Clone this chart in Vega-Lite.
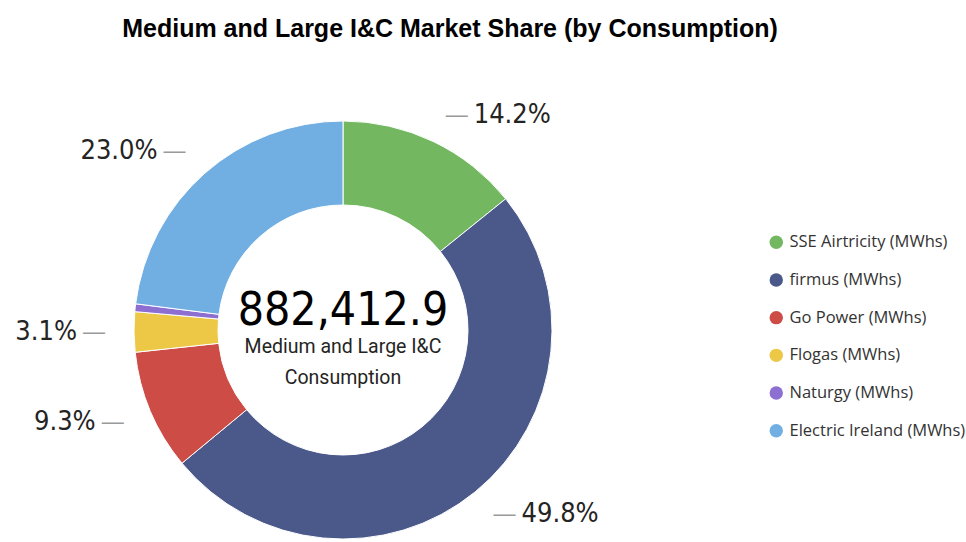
{
  "$schema": "https://vega.github.io/schema/vega-lite/v6.json",
  "width": 662,
  "height": 636,
  "autosize": {"type": "none"},
  "padding": {"left": 12, "top": 12, "right": 292, "bottom": 0},
  "background": "#ffffff",
  "config": {"view": {"stroke": null}},
  "title": {
    "text": "Medium and Large I&C Market Share (by Consumption)",
    "anchor": "middle",
    "frame": "group",
    "dx": 107,
    "dy": 34,
    "font": "Liberation Sans",
    "fontSize": 25,
    "fontWeight": "bold",
    "color": "#000000"
  },
  "datasets": {
    "shares": [
      {"supplier": "SSE Airtricity (MWhs)", "share": 0.142, "rank": 1},
      {"supplier": "firmus (MWhs)", "share": 0.498, "rank": 2},
      {"supplier": "Go Power (MWhs)", "share": 0.093, "rank": 3},
      {"supplier": "Flogas (MWhs)", "share": 0.031, "rank": 4},
      {"supplier": "Naturgy (MWhs)", "share": 0.006, "rank": 5},
      {"supplier": "Electric Ireland (MWhs)", "share": 0.230, "rank": 6}
    ],
    "kpi": [
      {"total": 882412.9, "caption": "Medium and Large I&C\nConsumption"}
    ]
  },
  "layer": [
    {
      "data": {"name": "shares"},
      "mark": {"type": "arc", "innerRadius": 125, "outerRadius": 209, "stroke": "#ffffff", "strokeWidth": 1},
      "encoding": {
        "theta": {"field": "share", "type": "quantitative", "stack": true},
        "order": {"field": "rank", "type": "quantitative"},
        "color": {
          "field": "supplier",
          "type": "nominal",
          "sort": null,
          "scale": {
            "domain": ["SSE Airtricity (MWhs)", "firmus (MWhs)", "Go Power (MWhs)", "Flogas (MWhs)", "Naturgy (MWhs)", "Electric Ireland (MWhs)"],
            "range": ["#73B761", "#4A588A", "#CD4C46", "#ECC846", "#8D6FD1", "#71AFE2"]
          },
          "legend": {
            "title": null,
            "orient": "none",
            "legendX": 756,
            "legendY": 222,
            "symbolType": "circle",
            "symbolSize": 180,
            "symbolStrokeWidth": 0,
            "labelFont": "Open Sans",
            "labelFontSize": 16.5,
            "labelColor": "#333333",
            "labelOffset": 5,
            "labelLimit": 400,
            "rowPadding": 20.7
          }
        }
      }
    },
    {
      "data": {"name": "shares"},
      "mark": {"type": "text", "radius": 238, "align": "left", "baseline": "middle", "fontSize": 22, "font": "Liberation Sans", "fill": "#9a9a9a"},
      "encoding": {
        "theta": {"field": "share", "type": "quantitative", "stack": true},
        "order": {"field": "rank", "type": "quantitative"},
        "detail": {"field": "supplier", "type": "nominal"},
        "text": {"condition": {"test": "indexof(['SSE Airtricity (MWhs)','firmus (MWhs)'], datum.supplier) >= 0", "value": "—"}, "value": ""}
      }
    },
    {
      "data": {"name": "shares"},
      "mark": {"type": "text", "radius": 238, "align": "right", "baseline": "middle", "fontSize": 22, "font": "Liberation Sans", "fill": "#9a9a9a"},
      "encoding": {
        "theta": {"field": "share", "type": "quantitative", "stack": true},
        "order": {"field": "rank", "type": "quantitative"},
        "detail": {"field": "supplier", "type": "nominal"},
        "text": {"condition": {"test": "indexof(['Go Power (MWhs)','Flogas (MWhs)','Electric Ireland (MWhs)'], datum.supplier) >= 0", "value": "—"}, "value": ""}
      }
    },
    {
      "data": {"name": "shares"},
      "mark": {"type": "text", "radius": 238, "dx": 28, "align": "left", "baseline": "middle", "fontSize": 27, "font": "DejaVu Sans Condensed", "fill": "#252423"},
      "encoding": {
        "theta": {"field": "share", "type": "quantitative", "stack": true},
        "order": {"field": "rank", "type": "quantitative"},
        "detail": {"field": "supplier", "type": "nominal"},
        "text": {"condition": {"test": "indexof(['SSE Airtricity (MWhs)','firmus (MWhs)'], datum.supplier) >= 0", "field": "share", "format": ".1%"}, "value": ""}
      }
    },
    {
      "data": {"name": "shares"},
      "mark": {"type": "text", "radius": 238, "dx": -28, "align": "right", "baseline": "middle", "fontSize": 27, "font": "DejaVu Sans Condensed", "fill": "#252423"},
      "encoding": {
        "theta": {"field": "share", "type": "quantitative", "stack": true},
        "order": {"field": "rank", "type": "quantitative"},
        "detail": {"field": "supplier", "type": "nominal"},
        "text": {"condition": {"test": "indexof(['Go Power (MWhs)','Flogas (MWhs)','Electric Ireland (MWhs)'], datum.supplier) >= 0", "field": "share", "format": ".1%"}, "value": ""}
      }
    },
    {
      "data": {"name": "kpi"},
      "mark": {"type": "text", "align": "center", "baseline": "alphabetic", "dy": -5, "fontSize": 46, "font": "DejaVu Sans Condensed", "fill": "#000000"},
      "encoding": {
        "text": {"field": "total", "type": "quantitative", "format": ",.1f"}
      }
    },
    {
      "data": {"name": "kpi"},
      "mark": {"type": "text", "align": "center", "baseline": "alphabetic", "dy": 23, "lineBreak": "\n", "lineHeight": 31, "fontSize": 19.5, "font": "Roboto", "fill": "#252423"},
      "encoding": {
        "text": {"field": "caption", "type": "nominal"}
      }
    }
  ]
}
